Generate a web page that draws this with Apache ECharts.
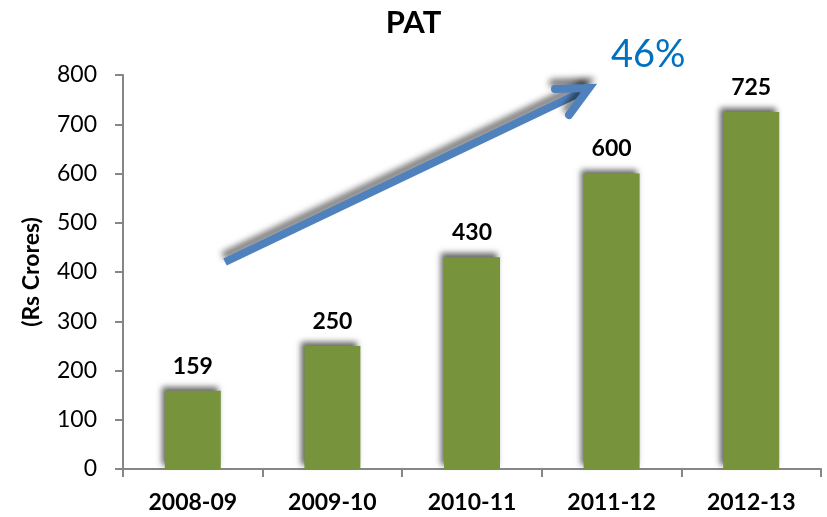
<!DOCTYPE html>
<html>
<head>
<meta charset="utf-8">
<script src="https://cdn.jsdelivr.net/npm/echarts@6/dist/echarts.min.js"></script>
<style>
  html, body { margin: 0; padding: 0; background: #fff; }
  #container { width: 827px; height: 517px; }
</style>
</head>
<body>
<div id="container"></div>
<script>
var dom = document.getElementById("container");
var myChart = echarts.init(dom);

var years = ["2008-09", "2009-10", "2010-11", "2011-12", "2012-13"];
var pat = [159, 250, 430, 600, 725];
var growthText = "46%";

var font = "Lato, 'Open Sans', sans-serif";
var axisGrey = "#868686";

var option = {
  backgroundColor: "#fff",
  title: {
    text: "PAT",
    left: "center",
    top: 2,
    textStyle: { fontFamily: font, fontSize: 31, fontWeight: "bold", color: "#000" }
  },
  grid: { left: 123, right: 6, top: 75, bottom: 48 },
  xAxis: {
    type: "category",
    data: years,
    axisLine: { lineStyle: { color: axisGrey, width: 2 } },
    axisTick: { show: true, length: 8, lineStyle: { color: axisGrey, width: 2 } },
    axisLabel: { margin: 22, fontFamily: font, fontSize: 23, fontWeight: "bold", color: "#000" }
  },
  yAxis: {
    type: "value",
    min: 0,
    max: 800,
    interval: 100,
    name: "(Rs Crores)",
    nameLocation: "middle",
    nameGap: 80,
    nameTextStyle: { fontFamily: font, fontSize: 23, fontWeight: "bold", color: "#000" },
    axisLine: { show: true, lineStyle: { color: axisGrey, width: 2 } },
    axisTick: { show: true, length: 8, lineStyle: { color: axisGrey, width: 2 } },
    splitLine: { show: false },
    axisLabel: { margin: 26, fontFamily: font, fontSize: 23, color: "#000" }
  },
  series: [
    {
      type: "bar",
      data: pat,
      barWidth: 56,
      itemStyle: {
        color: "#77933C",
        shadowColor: "rgba(0,0,0,0.6)",
        shadowBlur: 6,
        shadowOffsetX: -3,
        shadowOffsetY: -4
      },
      label: {
        show: true,
        position: "top",
        distance: 13,
        fontFamily: font,
        fontSize: 23,
        fontWeight: "bold",
        color: "#000"
      }
    }
  ],
  graphic: [
    {
      type: "line",
      shape: { x1: 225, y1: 262, x2: 588, y2: 89 },
      style: {
        stroke: "#4F81BD",
        lineWidth: 8,
        shadowColor: "rgba(0,0,0,0.55)",
        shadowBlur: 6,
        shadowOffsetX: -2,
        shadowOffsetY: -6
      },
      z: 10
    },
    {
      type: "polyline",
      shape: { points: [[555, 89], [589, 88], [569, 115]] },
      style: {
        stroke: "#4F81BD",
        fill: null,
        lineWidth: 8,
        lineCap: "round",
        lineJoin: "miter",
        shadowColor: "rgba(0,0,0,0.55)",
        shadowBlur: 6,
        shadowOffsetX: -2,
        shadowOffsetY: -6
      },
      z: 10
    },
    {
      type: "text",
      left: 611,
      top: 36,
      style: { text: growthText, fontFamily: font, fontSize: 38, fill: "#0070C0" },
      z: 11
    }
  ]
};

if (option && typeof option === "object") {
  myChart.setOption(option, true);
}
</script>
</body>
</html>
